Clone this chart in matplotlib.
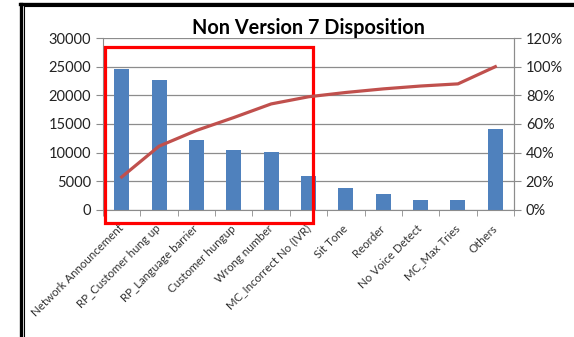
import matplotlib
matplotlib.use('Agg')
import matplotlib.pyplot as plt
from matplotlib.patches import Rectangle
from matplotlib.lines import Line2D
from matplotlib.ticker import FuncFormatter
from matplotlib.transforms import ScaledTranslation

plt.rcParams['font.family'] = ['Lato', 'DejaVu Sans']

# data
categories = ['Network Announcement', 'RP_Customer hung up', 'RP_Language barrier',
              'Customer hungup', 'Wrong number', 'MC_Incorrect No (IVR)', 'Sit Tone',
              'Reorder', 'No Voice Detect', 'MC_Max Tries', 'Others']
counts = [24650, 22650, 12150, 10400, 10150, 5950, 3750, 2800, 1750, 1750, 14200]
cum_pct = [23, 44.5, 55.5, 64.5, 74, 79, 82, 84.5, 86.5, 88, 100]

fig = plt.figure(figsize=(5.74, 3.37), dpi=100)
ax = fig.add_axes([0.1794, 0.3769, 0.7161, 0.5103])

x = range(len(categories))
ax.bar(x, counts, width=0.4, color='#4F81BD', zorder=2)
ax.set_xlim(-0.5, len(categories) - 0.5)
ax.set_ylim(0, 30000)
ax.set_yticks(range(0, 30001, 5000))
ax.grid(axis='y', color='#8C8C8C', linewidth=0.9, zorder=0)
ax.set_axisbelow(True)

ax.set_xticks(x)
ax.set_xticklabels(categories, rotation=45, ha='right', va='center',
                   rotation_mode='anchor', fontsize=8.3, color='#333333')
shift = ScaledTranslation(-6 / 100, 0, fig.dpi_scale_trans)
for lab in ax.get_xticklabels():
    lab.set_transform(lab.get_transform() + shift)
ax.set_xticks([i + 0.5 for i in range(-1, len(categories))], minor=True)
ax.tick_params(axis='x', which='major', length=0, pad=12)
ax.tick_params(axis='x', which='minor', length=4, color='#8C8C8C')
ax.tick_params(axis='y', length=5, color='#8C8C8C', labelsize=10.5, labelcolor='#222222')

ax.spines['top'].set_visible(False)
for s in ['left', 'right', 'bottom']:
    ax.spines[s].set_color('#8C8C8C')

ax2 = ax.twinx()
ax2.plot(x, cum_pct, color='#C0504D', linewidth=2.3, zorder=3)
ax2.set_ylim(0, 120)
ax2.set_yticks(range(0, 121, 20))
ax2.yaxis.set_major_formatter(FuncFormatter(lambda v, p: f'{int(v)}%'))
ax2.tick_params(axis='y', length=5, color='#8C8C8C', labelsize=10.5, labelcolor='#222222')
for s in ['top', 'left', 'bottom']:
    ax2.spines[s].set_visible(False)
ax2.spines['right'].set_color('#8C8C8C')

ax.set_title('Non Version 7 Disposition', fontsize=14.3, fontweight='bold', pad=3)

# red highlight box round the first six categories
box = Rectangle((-0.45, -2260), 5.57, 30640, fill=False, edgecolor='#FF0000',
                linewidth=2.3, clip_on=False, zorder=5)
ax.add_patch(box)

# double frame on the left and top
fig.add_artist(Line2D([0.0358, 0.0358], [0, 0.9896], transform=fig.transFigure,
                      color='black', linewidth=2.4))
fig.add_artist(Line2D([0.0340, 1.0], [0.9896, 0.9896], transform=fig.transFigure,
                      color='black', linewidth=2.4))
fig.add_artist(Line2D([0.0425, 0.0425], [0, 0.983], transform=fig.transFigure,
                      color='black', linewidth=0.8))
fig.add_artist(Line2D([0.0425, 1.0], [0.983, 0.983], transform=fig.transFigure,
                      color='black', linewidth=0.8))

fig.savefig('out.png', dpi=100)
